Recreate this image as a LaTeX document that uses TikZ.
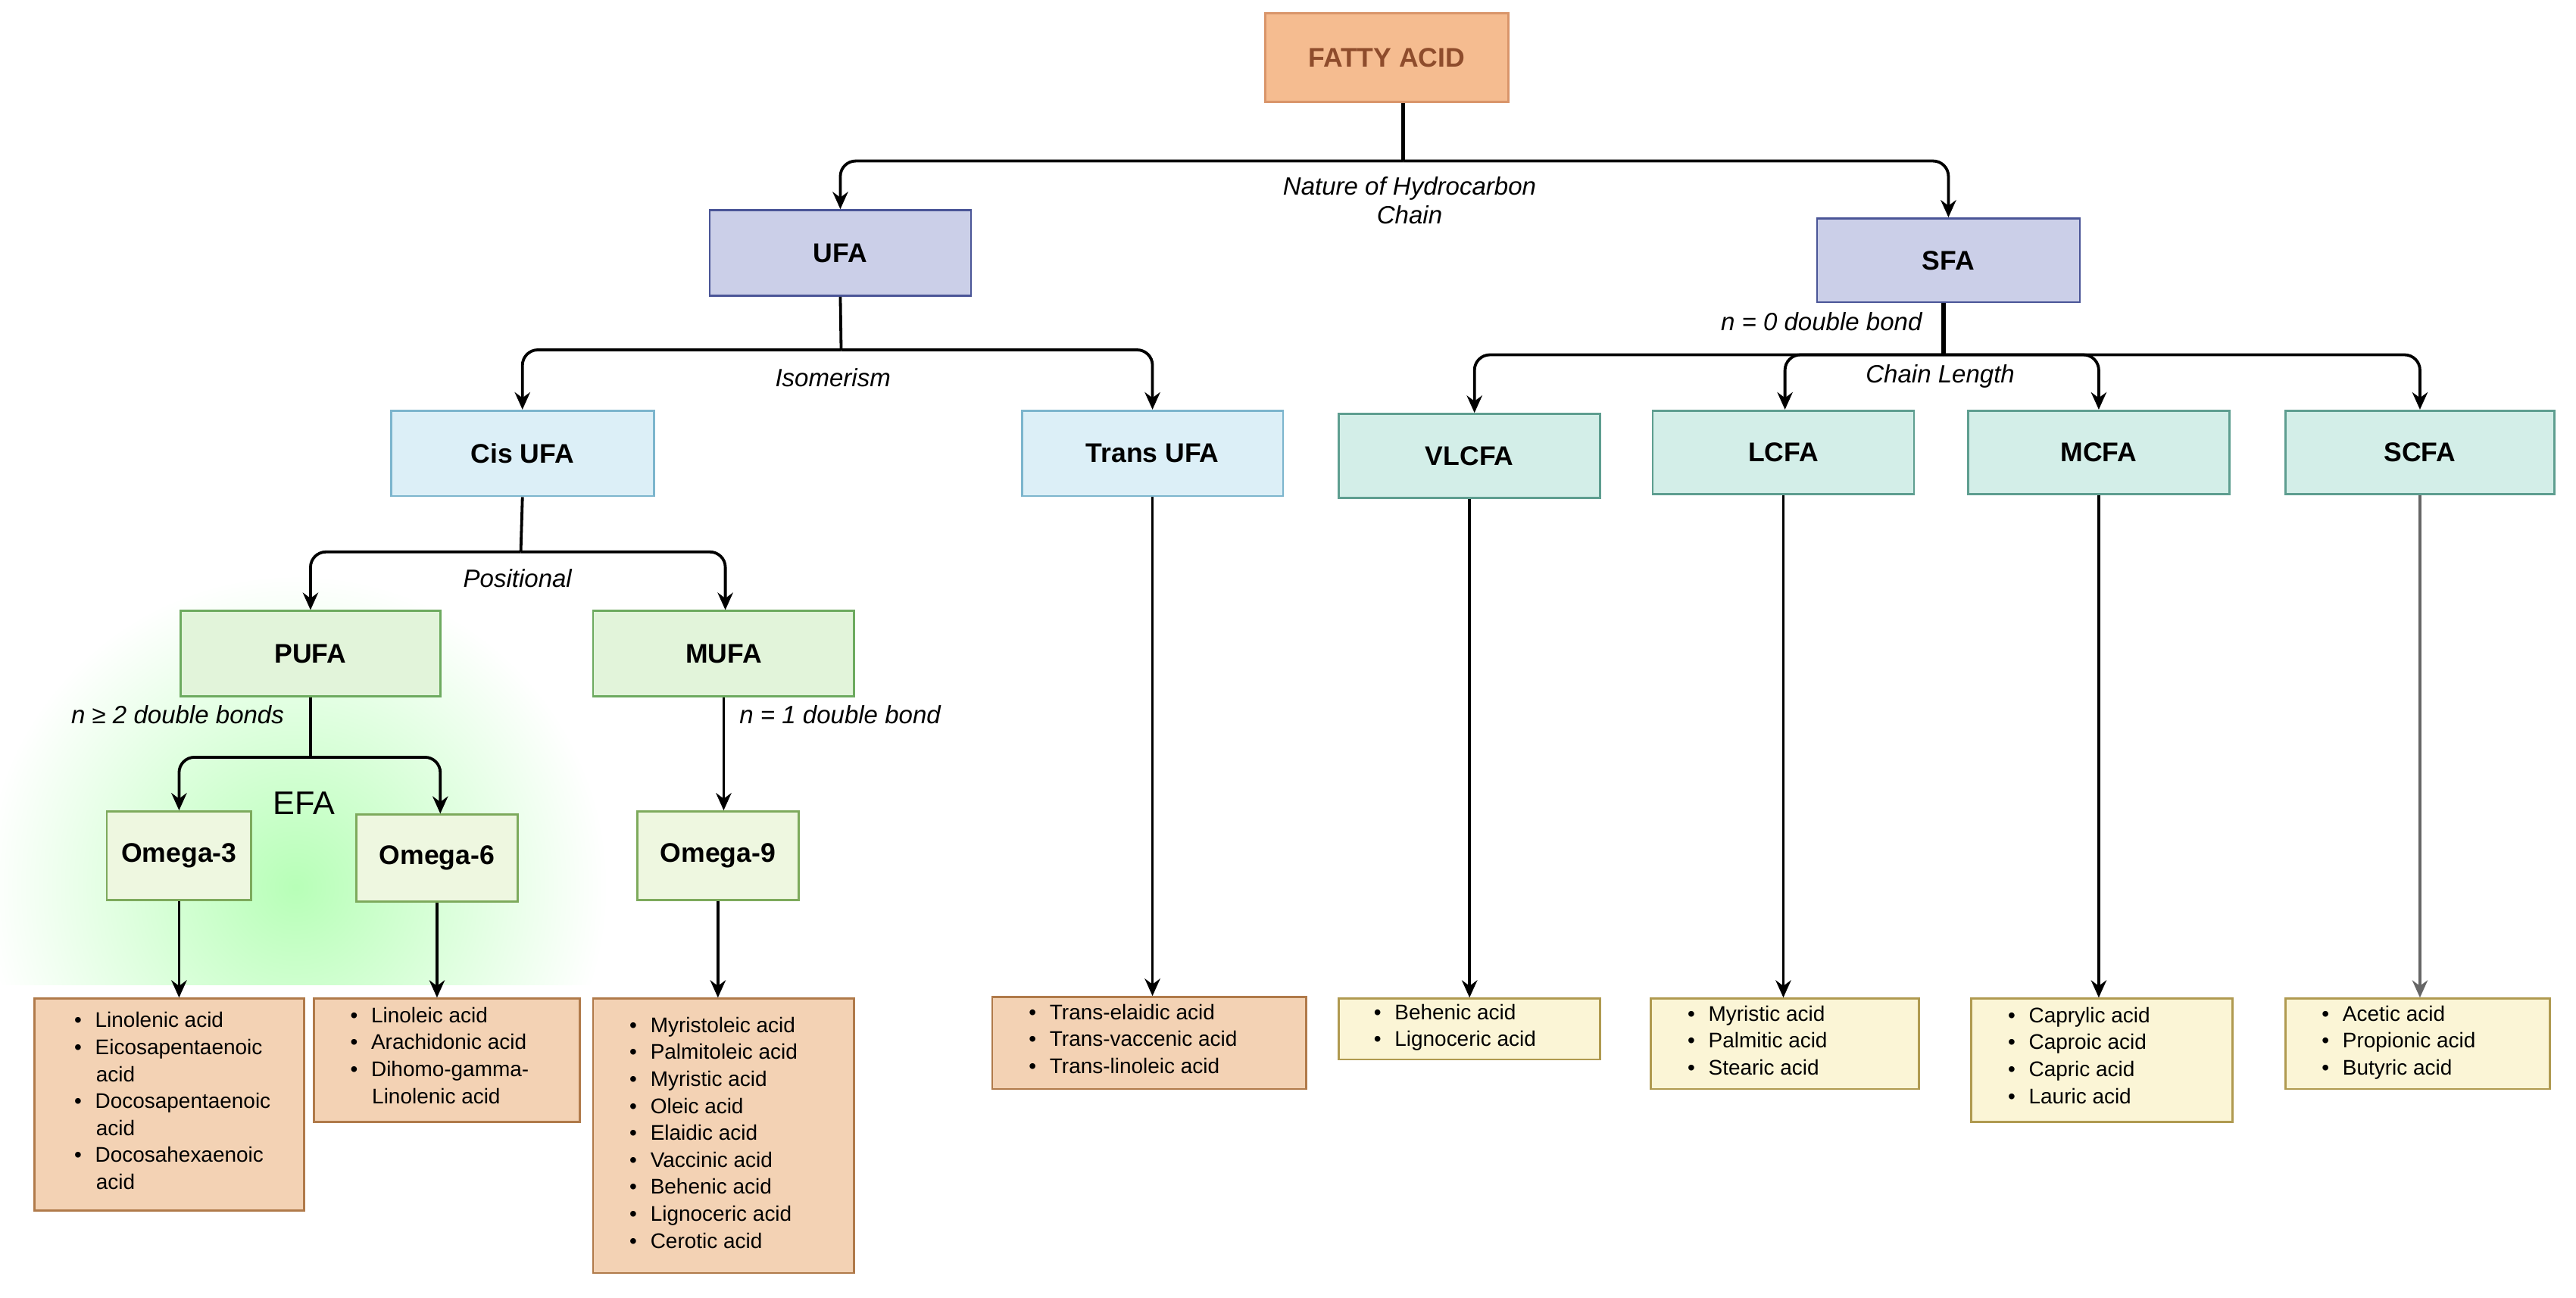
\documentclass[tikz,border=0pt]{standalone}
\usepackage{fontspec}
\setmainfont{Liberation Sans}
\usetikzlibrary{arrows.meta,calc}
\definecolor{faF}{HTML}{F5BC90}\definecolor{faD}{HTML}{D9956A}\definecolor{faT}{HTML}{8E4C2C}
\definecolor{ufF}{HTML}{CBCFE8}\definecolor{ufD}{HTML}{4A5597}
\definecolor{ciF}{HTML}{DCEFF7}\definecolor{ciD}{HTML}{7CB5CD}
\definecolor{chF}{HTML}{D3EEE8}\definecolor{chD}{HTML}{5E9E90}
\definecolor{puF}{HTML}{E2F4DA}\definecolor{puD}{HTML}{6DAA5F}
\definecolor{omF}{HTML}{EEF7E0}\definecolor{omD}{HTML}{7DAA5C}
\definecolor{liF}{HTML}{F3D2B4}\definecolor{liD}{HTML}{B07A4A}
\definecolor{yeF}{HTML}{FBF5D6}\definecolor{yeD}{HTML}{B09A50}
\begin{document}
\begin{tikzpicture}[x=0.03cm,y=-0.03cm,
 box/.style={draw,line width=1.1pt,font=\fontsize{14}{16}\selectfont\bfseries,inner sep=0pt},
 bx/.style args={#1/#2/#3/#4}{minimum width={(#3-#1)*0.03cm},minimum height={(#4-#2)*0.03cm}},
 lbl/.style={font=\fontsize{13}{15}\selectfont\itshape,align=center},
 lst/.style={font=\fontsize{11}{14}\selectfont,align=left,anchor=north west,inner sep=0pt},
 con/.style={line width=1.5pt,rounded corners=8pt},
 arr/.style={con,-{Stealth[length=9pt,width=8pt]}}]
\useasboundingbox (0,0) rectangle (1568,790);
\shade[inner color=green!28,outer color=white] (180,540) circle (190);
\fill[white] (0,600) rectangle (400,790);
% boxes
\node[box,fill=faF,draw=faD,text=faT,bx=770/8/918/62] (fa) at (844,35) {FATTY ACID};
\node[box,fill=ufF,draw=ufD,bx=432/128/591/180] (ufa) at (511.5,154) {UFA};
\node[box,fill=ufF,draw=ufD,bx=1106/133/1266/184] (sfa) at (1186,158.5) {SFA};
\node[box,fill=ciF,draw=ciD,bx=238/250/398/302] (cis) at (318,276) {Cis UFA};
\node[box,fill=ciF,draw=ciD,bx=622/250/781/302] (trans) at (701.5,276) {Trans UFA};
\node[box,fill=chF,draw=chD,bx=815/252/974/303] (vl) at (894.5,277.5) {VLCFA};
\node[box,fill=chF,draw=chD,bx=1006/250/1165/301] (lc) at (1085.5,275.5) {LCFA};
\node[box,fill=chF,draw=chD,bx=1198/250/1357/301] (mc) at (1277.5,275.5) {MCFA};
\node[box,fill=chF,draw=chD,bx=1391/250/1555/301] (sc) at (1473,275.5) {SCFA};
\node[box,fill=puF,draw=puD,bx=110/372/268/424] (pu) at (189,398) {PUFA};
\node[box,fill=puF,draw=puD,bx=361/372/520/424] (mu) at (440.5,398) {MUFA};
\node[box,fill=omF,draw=omD,bx=65/494/153/548] (o3) at (109,521) {Omega-3};
\node[box,fill=omF,draw=omD,bx=217/496/315/549] (o6) at (266,522.5) {Omega-6};
\node[box,fill=omF,draw=omD,bx=388/494/486/548] (o9) at (437,521) {Omega-9};
% list boxes
\node[box,fill=liF,draw=liD,bx=21/608/185/737] (l3) at (103,672.5) {};
\node[box,fill=liF,draw=liD,bx=191/608/353/683] (l6) at (272,645.5) {};
\node[box,fill=liF,draw=liD,bx=361/608/520/775] (l9) at (440.5,691.5) {};
\node[box,fill=liF,draw=liD,bx=604/607/795/663] (lt) at (699.5,635) {};
\node[box,fill=yeF,draw=yeD,bx=815/608/974/645] (lv) at (894.5,626.5) {};
\node[box,fill=yeF,draw=yeD,bx=1005/608/1168/663] (ll) at (1086.5,635.5) {};
\node[box,fill=yeF,draw=yeD,bx=1200/608/1359/683] (lm) at (1279.5,645.5) {};
\node[box,fill=yeF,draw=yeD,bx=1391/608/1552/663] (ls) at (1471.5,635.5) {};
\def\b{\textbullet\hspace{7pt}}\def\h{\hspace*{11.3pt}}
\node[lst] at (45,616) {\b Linolenic acid\\\b Eicosapentaenoic\\\h acid\\\b Docosapentaenoic\\\h acid\\\b Docosahexaenoic\\\h acid};
\node[lst] at (213,613) {\b Linoleic acid\\\b Arachidonic acid\\\b Dihomo-gamma-\\\h Linolenic acid};
\node[lst] at (383,619) {\b Myristoleic acid\\\b Palmitoleic acid\\\b Myristic acid\\\b Oleic acid\\\b Elaidic acid\\\b Vaccinic acid\\\b Behenic acid\\\b Lignoceric acid\\\b Cerotic acid};
\node[lst] at (626,611) {\b Trans-elaidic acid\\\b Trans-vaccenic acid\\\b Trans-linoleic acid};
\node[lst] at (836,611) {\b Behenic acid\\\b Lignoceric acid};
\node[lst] at (1027,612) {\b Myristic acid\\\b Palmitic acid\\\b Stearic acid};
\node[lst] at (1222,613) {\b Caprylic acid\\\b Caproic acid\\\b Capric acid\\\b Lauric acid};
\node[lst] at (1413,612) {\b Acetic acid\\\b Propionic acid\\\b Butyric acid};
% connectors
\coordinate (j1) at (854,98);
\draw[con,line width=2.2pt] (fa.south -| j1) -- (j1);
\draw[arr] (j1) -| (ufa.north);
\draw[arr] (j1) -| (sfa.north);
\node[lbl] at (858,122) {Nature of Hydrocarbon\\Chain};
\coordinate (j2) at (512,213);
\draw[con] (ufa.south) -- (j2);
\draw[arr] (j2) -| (cis.north);
\draw[arr] (j2) -| (trans.north);
\node[lbl] at (507,230) {Isomerism};
\coordinate (j3) at (1183,216);
\draw[con,line width=2.2pt] (sfa.south -| j3) -- (j3);
\draw[arr] (j3) -| ($(vl.north)+(3,0)$);
\draw[arr] (j3) -| ($(lc.north)+(1,0)$);
\draw[arr] (j3) -| (mc.north);
\draw[arr] (j3) -| (sc.north);
\node[lbl,anchor=east] at (1174,196) {n = 0 double bond};
\node[lbl] at (1181,229) {Chain Length};
\coordinate (j4) at (317,336);
\draw[con] (cis.south) -- (j4);
\draw[arr] (j4) -| (pu.north);
\draw[arr] (j4) -| ($(mu.north)+(1,0)$);
\node[lbl] at (315,352) {Positional};
\coordinate (j5) at (189,461);
\draw[con] (pu.south) -- (j5);
\draw[arr] (j5) -| (o3.north);
\draw[arr] (j5) -| ($(o6.north)+(2,0)$);
\node[lbl,anchor=east] at (177,435) {n ≥ 2 double bonds};
\node[font=\fontsize{17}{19}\selectfont] at (185,489) {EFA};
\draw[arr] (mu.south) -- (mu.south |- o9.north);
\node[lbl,anchor=west] at (446,435) {n = 1 double bond};
\draw[arr] (o3.south) -- (o3.south |- l3.north);
\draw[arr] (o6.south) -- (o6.south |- l6.north);
\draw[arr] (o9.south) -- (o9.south |- l9.north);
\draw[arr] (trans.south) -- (trans.south |- lt.north);
\draw[arr] (vl.south) -- (vl.south |- lv.north);
\draw[arr] (lc.south) -- (lc.south |- ll.north);
\draw[arr] (mc.south) -- (mc.south |- lm.north);
\draw[arr,draw=gray!80!black] (sc.south) -- (sc.south |- ls.north);
\end{tikzpicture}
\end{document}
